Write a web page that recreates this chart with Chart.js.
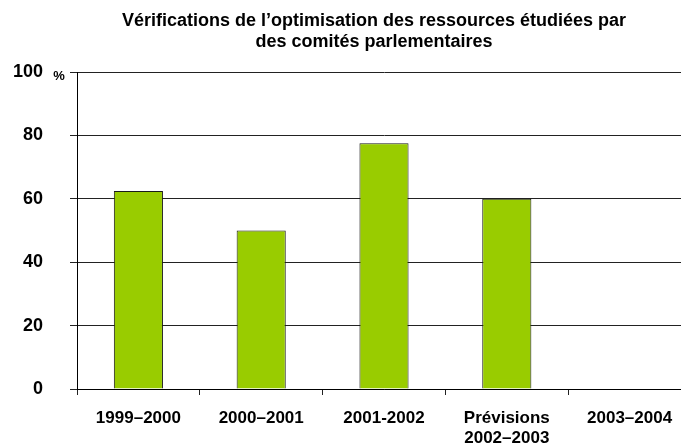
<!DOCTYPE html>
<html>
<head>
<meta charset="utf-8">
<script src="https://cdn.jsdelivr.net/npm/chart.js@4/dist/chart.umd.min.js"></script>
<style>
	html, body { margin: 0; padding: 0; background: #fff; overflow: hidden; }
	#wrap { width: 681px; height: 446px; overflow: hidden; }
</style>
</head>
<body>
<div id="wrap"><canvas id="barChart" width="700" height="446"></canvas></div>
<script>
const titleLines = [
	'Vérifications de l’optimisation des ressources étudiées par',
	'des comités parlementaires',
];
const categories = ['1999–2000', '2000–2001', '2001-2002', ['Prévisions', '2002–2003'], '2003–2004'];
const values = [62.5, 50, 77.5, 60, null];
const yTicks = [0, 20, 40, 60, 80, 100];
const unitLabel = '%';

const FONT = '"Liberation Sans", Arial, Helvetica, sans-serif';

const headerPlugin = {
	id: 'header',
	afterDraw(chart) {
		const { ctx, chartArea, scales } = chart;
		ctx.save();
		ctx.fillStyle = '#000';
		ctx.textAlign = 'center';
		ctx.textBaseline = 'alphabetic';
		ctx.font = `bold 18px ${FONT}`;
		titleLines.forEach((line, i) => ctx.fillText(line, 374, 26 + i * 21));

		// unit next to the top tick
		ctx.font = `bold 13px ${FONT}`;
		ctx.textBaseline = 'middle';
		ctx.fillText(unitLabel, chartArea.left - 18, scales.y.getPixelForValue(yTicks[yTicks.length - 1]) + 4);
		ctx.restore();
	},
};

const ctx = document.querySelector('#barChart');

const myChart = new Chart(ctx, {
	type: 'bar',
	data: {
		labels: categories,
		datasets: [
			{
				data: values,
				backgroundColor: '#99cc00',
				borderColor: '#1a1a1a',
				borderWidth: 1,
				barPercentage: 0.4,
				categoryPercentage: 1,
			},
		],
	},
	options: {
		responsive: false,
		animation: false,
		layout: { padding: { top: 72, left: 13, right: 9, bottom: 0 } },
		plugins: {
			legend: { display: false },
			title: { display: false },
			tooltip: { enabled: false },
		},
		scales: {
			x: {
				afterFit: scale => { scale.height = 57; },
				grid: { drawOnChartArea: false, drawTicks: true, tickLength: 6, color: '#222', offset: true },
				border: { display: true, color: '#000', width: 1 },
				ticks: { color: '#000', font: { family: FONT, size: 17, weight: 'bold' }, padding: 13, maxRotation: 0, autoSkip: false },
			},
			y: {
				min: yTicks[0],
				max: yTicks[yTicks.length - 1],
				afterBuildTicks: scale => { scale.ticks = yTicks.map(v => ({ value: v })); },
				afterFit: scale => { scale.width = 64; },
				grid: { color: '#222', lineWidth: 1, tickLength: 7 },
				border: { display: true, color: '#000', width: 1 },
				ticks: { color: '#000', font: { family: FONT, size: 18, weight: 'bold' }, padding: 27 },
			},
		},
	},
	plugins: [headerPlugin],
});
</script>
</body>
</html>
